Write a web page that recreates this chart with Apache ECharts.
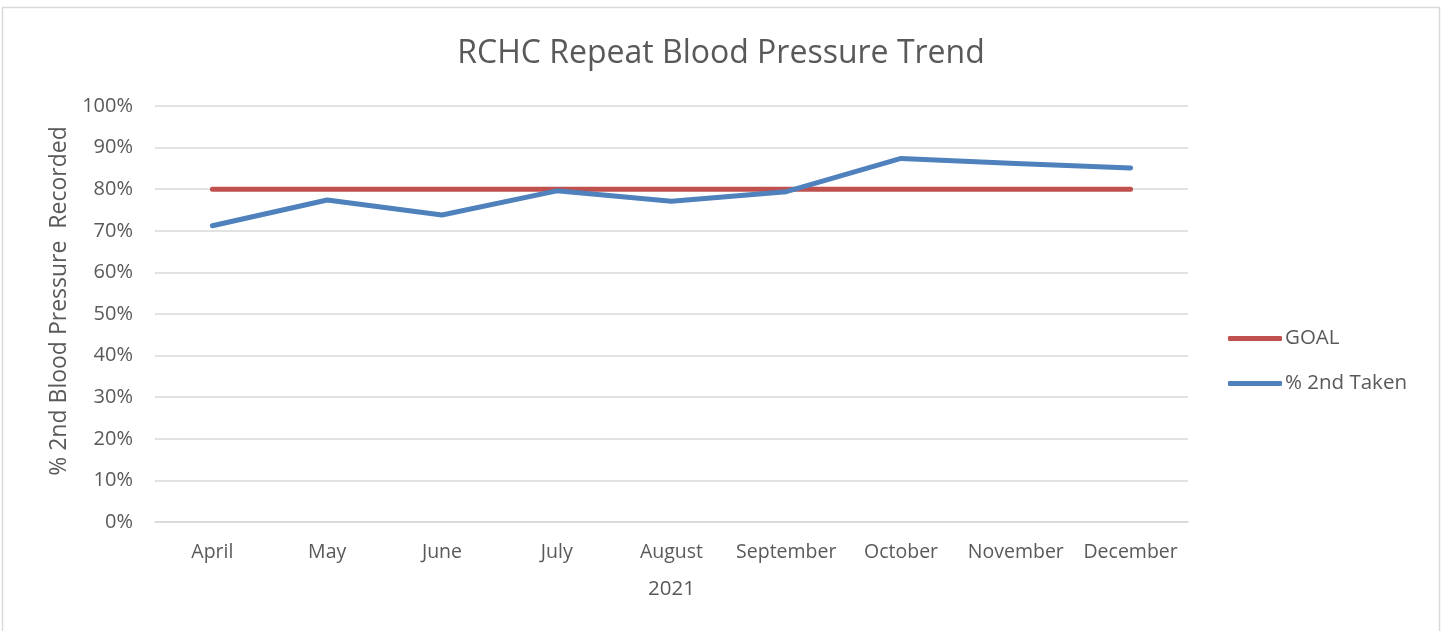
<!DOCTYPE html>
<html><head><meta charset="utf-8">
<script src="https://cdn.jsdelivr.net/npm/echarts@6/dist/echarts.min.js"></script>
<style>html,body{margin:0;padding:0;background:#fff}#c{width:1442px;height:631px}</style>
</head><body><div id="c"></div>
<script>
const categories = ['April','May','June','July','August','September','October','November','December'];
const goal = [80,80,80,80,80,80,80,80,80];
const taken = [71.2,77.4,73.8,79.6,77.1,79.4,87.4,86.2,85.1];
const yTicks = [0,10,20,30,40,50,60,70,80,90,100];

const FONT = 'Open Sans';
const TXT = '#595959';
const chart = echarts.init(document.getElementById('c'));
chart.setOption({
  animation: false,
  textStyle: {fontFamily: FONT},
  graphic: [{type:'rect', shape:{x:2.5,y:7.5,width:1437,height:640}, style:{fill:'none', stroke:'#d9d9d9', lineWidth:1.5}}],
  title: {text:'RCHC Repeat Blood Pressure Trend', left:'center', top:33, textStyle:{fontFamily:FONT, fontSize:32, fontWeight:'normal', color:TXT}},
  legend: {orient:'vertical', left:1223, top:323, itemWidth:54, itemHeight:5, itemGap:24, icon:'roundRect',
    textStyle:{fontFamily:FONT, fontSize:20.5, color:TXT, padding:[0,0,0,-2]},
    data:[{name:'GOAL'},{name:'% 2nd Taken'}]},
  grid: {left:155, right:254, top:106, bottom:109},
  xAxis: {type:'category', data:categories, boundaryGap:true,
    name:'2021', nameLocation:'middle', nameGap:57, nameTextStyle:{fontFamily:FONT, fontSize:20.5, color:TXT},
    axisLine:{lineStyle:{color:'#d9d9d9', width:1.5}}, axisTick:{show:false},
    axisLabel:{fontFamily:FONT, fontSize:19.5, color:TXT, margin:20, interval:0}},
  yAxis: {type:'value', min:0, max:100, interval:10,
    name:'% 2nd Blood Pressure  Recorded', nameLocation:'middle', nameGap:84, nameRotate:90,
    nameTextStyle:{fontFamily:FONT, fontSize:23, color:TXT, padding:[0,0,0,26]},
    axisLine:{show:false}, axisTick:{show:false},
    splitLine:{lineStyle:{color:'#d9d9d9', width:1.5}},
    axisLabel:{fontFamily:FONT, fontSize:20, color:TXT, margin:22, formatter: v => v + '%'}},
  series: [
    {name:'GOAL', type:'line', data:goal, symbol:'none', lineStyle:{color:'#C0504D', width:5, cap:'round'}, itemStyle:{color:'#C0504D'}},
    {name:'% 2nd Taken', type:'line', data:taken, symbol:'none', lineStyle:{color:'#4F81BD', width:5, cap:'round', join:'round'}, itemStyle:{color:'#4F81BD'}}
  ]
});
</script></body></html>
